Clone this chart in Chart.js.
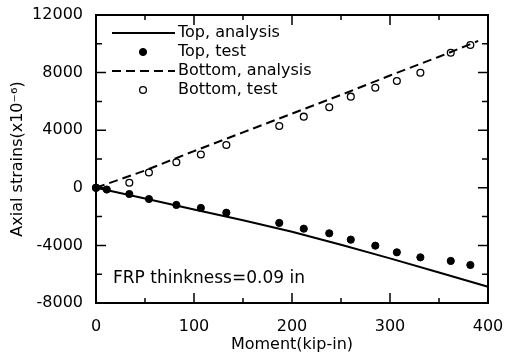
<!DOCTYPE html>
<html>
<head>
<meta charset="utf-8">
<script src="https://cdn.jsdelivr.net/npm/chart.js@4.4.1/dist/chart.umd.min.js"></script>
<style>
  body { margin: 0; background: #fff; }
  #chart { display: block; }
</style>
</head>
<body>
<canvas id="chart" width="510" height="356"></canvas>
<script>
// moment (kip-in) where the analysis curves were sampled
const momentAnalysis = [0, 50, 100, 150, 200, 250, 300, 350, 400];
const topAnalysis = [0, -750, -1500, -2250, -3050, -3950, -4900, -5880, -6870];
const momentBottomAnalysis = [0, 50, 100, 150, 200, 250, 300, 350, 390];
const bottomAnalysis = [0, 1200, 2550, 3850, 5150, 6450, 7800, 9100, 10200];

// test readings
const momentTopTest = [0, 11, 34, 54, 82, 107, 133, 187, 212, 238, 260, 285, 307, 331, 362, 382];
const topTest = [0, -120, -430, -780, -1190, -1400, -1730, -2440, -2840, -3160, -3600, -4020, -4480, -4830, -5080, -5360];
const momentBottomTest = [0, 34, 54, 82, 107, 133, 187, 212, 238, 260, 285, 307, 331, 362, 382];
const bottomTest = [0, 355, 1060, 1770, 2310, 2970, 4290, 4940, 5590, 6330, 6950, 7420, 7990, 9380, 9920];

const xTicks = [0, 100, 200, 300, 400];
const yTicks = [-8000, -4000, 0, 4000, 8000, 12000];
const legendLabels = ["Top, analysis", "Top, test", "Bottom, analysis", "Bottom, test"];
const note = "FRP thinkness=0.09 in";

const FONT = "DejaVu Sans";
const toPts = (xs, ys) => xs.map((x, i) => ({ x: x, y: ys[i] }));

// frame, inward ticks on all four sides, legend and note
const decor = {
  id: "decor",
  afterDraw: (chart) => {
    const { ctx, chartArea: a, scales } = chart;
    const xs = scales.x, ys = scales.y;
    ctx.save();
    ctx.strokeStyle = "#000";
    ctx.lineWidth = 2;
    ctx.strokeRect(a.left, a.top, a.right - a.left, a.bottom - a.top);

    ctx.lineWidth = 1.5;
    ctx.beginPath();
    for (let v = 0; v <= 400; v += 50) {
      const px = xs.getPixelForValue(v);
      const len = v % 100 === 0 ? 10 : 5;
      ctx.moveTo(px, a.bottom); ctx.lineTo(px, a.bottom - len);
      ctx.moveTo(px, a.top); ctx.lineTo(px, a.top + len);
    }
    for (let v = -8000; v <= 12000; v += 2000) {
      const py = ys.getPixelForValue(v);
      const len = v % 4000 === 0 ? 10 : 6;
      ctx.moveTo(a.left, py); ctx.lineTo(a.left + len, py);
      ctx.moveTo(a.right, py); ctx.lineTo(a.right - len, py);
    }
    ctx.stroke();

    // legend
    ctx.font = "16px '" + FONT + "'";
    ctx.textBaseline = "middle";
    ctx.fillStyle = "#000";
    const rows = [33, 52, 71, 90];
    chart.data.datasets.forEach((ds, i) => {
      const y = rows[i];
      if (ds.showLine) {
        ctx.lineWidth = ds.borderWidth;
        ctx.setLineDash(ds.borderDash || []);
        ctx.beginPath();
        ctx.moveTo(112, y); ctx.lineTo(175, y);
        ctx.stroke();
        ctx.setLineDash([]);
      } else {
        ctx.beginPath();
        ctx.arc(143, y, ds.pointRadius, 0, Math.PI * 2);
        ctx.fillStyle = ds.pointBackgroundColor;
        ctx.fill();
        ctx.lineWidth = ds.pointBorderWidth;
        ctx.stroke();
        ctx.fillStyle = "#000";
      }
      ctx.fillText(legendLabels[i], 178, y);
    });

    ctx.font = "17px '" + FONT + "'";
    ctx.fillText(note, 113, 279);
    ctx.restore();
  },
};

const chart = new Chart(document.getElementById("chart"), {
  type: "scatter",
  data: {
    datasets: [
      {
        data: toPts(momentAnalysis, topAnalysis),
        showLine: true,
        borderColor: "#000",
        borderWidth: 2,
        pointRadius: 0,
        clip: false,
      },
      {
        data: toPts(momentTopTest, topTest),
        showLine: false,
        pointRadius: 3.6,
        pointBackgroundColor: "#000",
        pointBorderColor: "#000",
        pointBorderWidth: 1,
        clip: false,
      },
      {
        data: toPts(momentBottomAnalysis, bottomAnalysis),
        showLine: true,
        borderColor: "#000",
        borderWidth: 2,
        borderDash: [9, 5],
        pointRadius: 0,
        clip: false,
      },
      {
        data: toPts(momentBottomTest, bottomTest),
        showLine: false,
        pointRadius: 3.4,
        pointBackgroundColor: "#fff",
        pointBorderColor: "#000",
        pointBorderWidth: 1.3,
        clip: false,
      },
    ],
  },
  options: {
    responsive: false,
    animation: false,
    events: [],
    layout: { padding: { top: 15, right: 22, left: 0, bottom: 0 } },
    plugins: { legend: { display: false }, tooltip: { enabled: false } },
    scales: {
      x: {
        type: "linear",
        min: 0,
        max: 400,
        afterFit: (s) => { s.height = 53; },
        afterBuildTicks: (s) => { s.ticks = xTicks.map((v) => ({ value: v })); },
        grid: { display: false },
        border: { display: false },
        ticks: {
          color: "#000",
          padding: 6,
          maxRotation: 0,
          font: { family: FONT, size: 16 },
          callback: (v) => String(v),
        },
        title: {
          display: true,
          text: "Moment(kip-in)",
          color: "#000",
          font: { family: FONT, size: 16 },
          padding: { top: 0, bottom: 2 },
        },
      },
      y: {
        type: "linear",
        min: -8000,
        max: 12000,
        afterFit: (s) => { s.width = 96; },
        afterBuildTicks: (s) => { s.ticks = yTicks.map((v) => ({ value: v })); },
        grid: { display: false },
        border: { display: false },
        ticks: {
          color: "#000",
          padding: 5,
          font: { family: FONT, size: 16 },
          callback: (v) => String(v),
        },
        title: {
          display: true,
          text: "Axial strains(x10\u207B\u2076)",
          color: "#000",
          font: { family: FONT, size: 16 },
          padding: { top: 8, bottom: 0 },
        },
      },
    },
  },
  plugins: [decor],
});
</script>
</body>
</html>
